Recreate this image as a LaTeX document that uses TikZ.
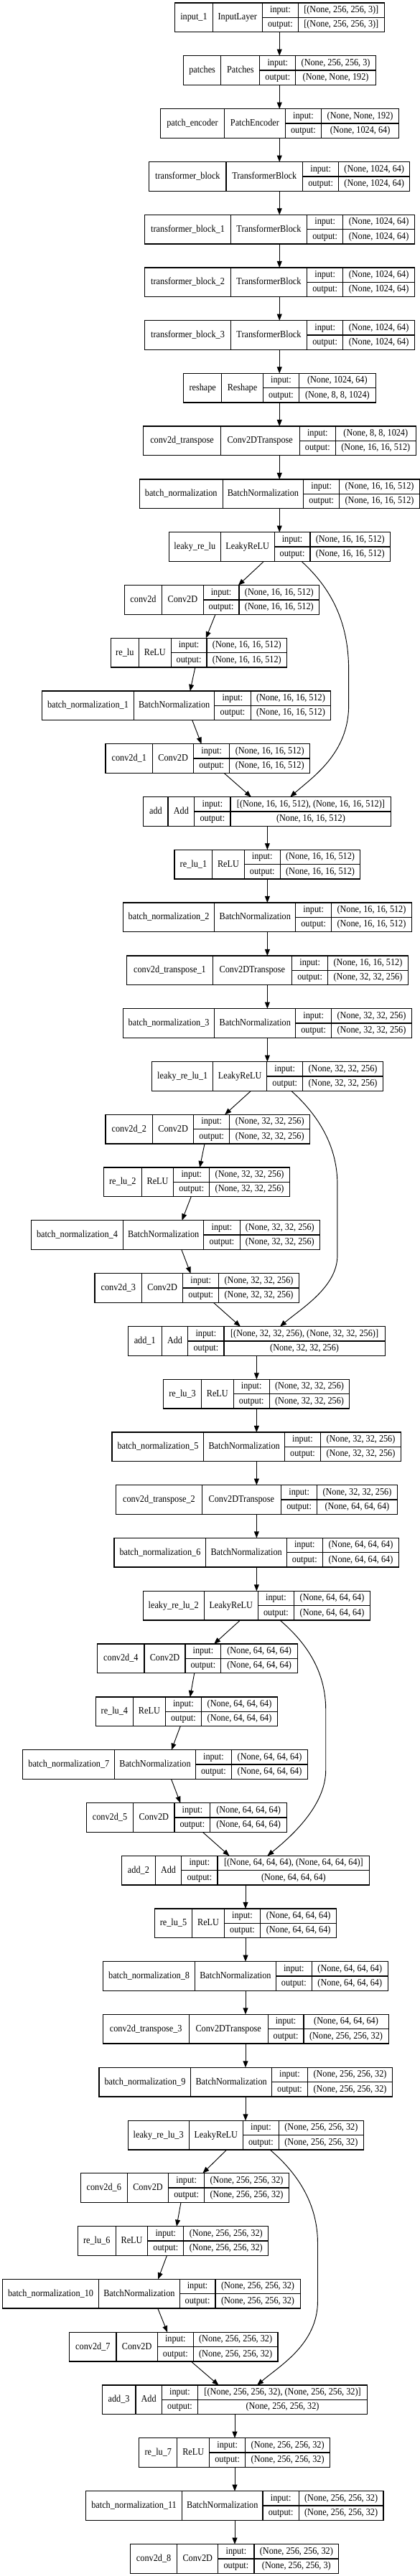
\documentclass[tikz,border=0pt]{standalone}
\usepackage{fontspec}
\setmainfont{Liberation Serif}[FakeStretch=0.9]
\usetikzlibrary{arrows.meta}

\tikzset{
    layer/.style={draw, line width=0.9pt, inner sep=0pt, outer sep=0pt, minimum height=30.5pt, anchor=north west},
    cell/.style={inner sep=0pt, text height=7.4pt, text depth=2.4pt, font=\fontsize{10.2}{12}\selectfont},
    edge/.style={line width=0.7pt, -{Triangle[length=6.8pt, width=5.2pt]}},
}

\begin{document}
\begin{tikzpicture}[x=0.28125pt, y=-0.25pt]
    \useasboundingbox (0,0) rectangle (1560,10770);

    % layer boxes: id / top / cell borders / name / class / input / output
    \foreach \i/\yt/\xa/\xb/\xc/\xd/\xe/\nm/\cl/\ii/\oo in {
        1/12/650/790/974/1108/1427/input\_1/InputLayer/{[(None, 256, 256, 3)]}/{[(None, 256, 256, 3)]},
        2/233/681/821/965/1098/1396/patches/Patches/{(None, 256, 256, 3)}/{(None, None, 192)},
        3/455/596/833/1060/1193/1482/patch\_encoder/PatchEncoder/{(None, None, 192)}/{(None, 1024, 64)},
        4/677/554/840/1124/1258/1522/transformer\_block/TransformerBlock/{(None, 1024, 64)}/{(None, 1024, 64)},
        5/898/538/857/1140/1274/1540/transformer\_block\_1/TransformerBlock/{(None, 1024, 64)}/{(None, 1024, 64)},
        6/1119/538/857/1140/1274/1540/transformer\_block\_2/TransformerBlock/{(None, 1024, 64)}/{(None, 1024, 64)},
        7/1340/538/857/1140/1274/1540/transformer\_block\_3/TransformerBlock/{(None, 1024, 64)}/{(None, 1024, 64)},
        8/1561/682/823/977/1111/1395/reshape/Reshape/{(None, 1024, 64)}/{(None, 8, 8, 1024)},
        9/1782/533/819/1113/1246/1545/conv2d\_transpose/Conv2DTranspose/{(None, 8, 8, 1024)}/{(None, 16, 16, 512)},
        10/2004/518/827/1127/1261/1558/batch\_normalization/BatchNormalization/{(None, 16, 16, 512)}/{(None, 16, 16, 512)},
        11/2225/628/819/1019/1152/1449/leaky\_re\_lu/LeakyReLU/{(None, 16, 16, 512)}/{(None, 16, 16, 512)},
        12/2447/462/602/755/888/1186/conv2d/Conv2D/{(None, 16, 16, 512)}/{(None, 16, 16, 512)},
        13/2668/411/516/635/768/1066/re\_lu/ReLU/{(None, 16, 16, 512)}/{(None, 16, 16, 512)},
        14/2889/156/497/797/931/1229/batch\_normalization\_1/BatchNormalization/{(None, 16, 16, 512)}/{(None, 16, 16, 512)},
        15/3110/392/567/719/853/1151/conv2d\_1/Conv2D/{(None, 16, 16, 512)}/{(None, 16, 16, 512)},
        16/3332/533/624/722/856/1453/add/Add/{[(None, 16, 16, 512), (None, 16, 16, 512)]}/{(None, 16, 16, 512)},
        17/3553/648/789/907/1041/1338/re\_lu\_1/ReLU/{(None, 16, 16, 512)}/{(None, 16, 16, 512)},
        18/3774/457/797/1098/1231/1529/batch\_normalization\_2/BatchNormalization/{(None, 16, 16, 512)}/{(None, 16, 16, 512)},
        19/3996/471/790/1084/1218/1515/conv2d\_transpose\_1/Conv2DTranspose/{(None, 16, 16, 512)}/{(None, 32, 32, 256)},
        20/4217/457/797/1098/1231/1529/batch\_normalization\_3/BatchNormalization/{(None, 32, 32, 256)}/{(None, 32, 32, 256)},
        21/4439/565/791/991/1125/1422/leaky\_re\_lu\_1/LeakyReLU/{(None, 32, 32, 256)}/{(None, 32, 32, 256)},
        22/4660/392/567/719/853/1151/conv2d\_2/Conv2D/{(None, 32, 32, 256)}/{(None, 32, 32, 256)},
        23/4881/385/526/645/778/1076/re\_lu\_2/ReLU/{(None, 32, 32, 256)}/{(None, 32, 32, 256)},
        24/5102/116/457/757/891/1188/batch\_normalization\_4/BatchNormalization/{(None, 32, 32, 256)}/{(None, 32, 32, 256)},
        25/5324/352/527/679/813/1110/conv2d\_3/Conv2D/{(None, 32, 32, 256)}/{(None, 32, 32, 256)},
        26/5546/475/601/698/832/1430/add\_1/Add/{[(None, 32, 32, 256), (None, 32, 32, 256)]}/{(None, 32, 32, 256)},
        27/5767/607/748/867/1001/1298/re\_lu\_3/ReLU/{(None, 32, 32, 256)}/{(None, 32, 32, 256)},
        28/5988/416/757/1057/1191/1489/batch\_normalization\_5/BatchNormalization/{(None, 32, 32, 256)}/{(None, 32, 32, 256)},
        29/6209/431/750/1044/1178/1475/conv2d\_transpose\_2/Conv2DTranspose/{(None, 32, 32, 256)}/{(None, 64, 64, 64)},
        30/6430/424/765/1065/1198/1482/batch\_normalization\_6/BatchNormalization/{(None, 64, 64, 64)}/{(None, 64, 64, 64)},
        31/6652/531/758/958/1092/1375/leaky\_re\_lu\_2/LeakyReLU/{(None, 64, 64, 64)}/{(None, 64, 64, 64)},
        32/6873/362/536/688/821/1105/conv2d\_4/Conv2D/{(None, 64, 64, 64)}/{(None, 64, 64, 64)},
        33/7095/355/495/614/748/1031/re\_lu\_4/ReLU/{(None, 64, 64, 64)}/{(None, 64, 64, 64)},
        34/7316/85/426/726/860/1143/batch\_normalization\_7/BatchNormalization/{(None, 64, 64, 64)}/{(None, 64, 64, 64)},
        35/7538/321/495/648/781/1065/conv2d\_5/Conv2D/{(None, 64, 64, 64)}/{(None, 64, 64, 64)},
        36/7759/452/577/674/808/1373/add\_2/Add/{[(None, 64, 64, 64), (None, 64, 64, 64)]}/{(None, 64, 64, 64)},
        37/7980/574/714/833/967/1250/re\_lu\_5/ReLU/{(None, 64, 64, 64)}/{(None, 64, 64, 64)},
        38/8201/383/724/1025/1158/1441/batch\_normalization\_8/BatchNormalization/{(None, 64, 64, 64)}/{(None, 64, 64, 64)},
        39/8422/382/702/995/1128/1443/conv2d\_transpose\_3/Conv2DTranspose/{(None, 64, 64, 64)}/{(None, 256, 256, 32)},
        40/8644/368/709/1009/1143/1457/batch\_normalization\_9/BatchNormalization/{(None, 256, 256, 32)}/{(None, 256, 256, 32)},
        41/8866/475/702/902/1036/1350/leaky\_re\_lu\_3/LeakyReLU/{(None, 256, 256, 32)}/{(None, 256, 256, 32)},
        42/9086/299/473/626/759/1073/conv2d\_6/Conv2D/{(None, 256, 256, 32)}/{(None, 256, 256, 32)},
        43/9308/289/430/549/682/997/re\_lu\_6/ReLU/{(None, 256, 256, 32)}/{(None, 256, 256, 32)},
        44/9529/9/367/667/800/1115/batch\_normalization\_10/BatchNormalization/{(None, 256, 256, 32)}/{(None, 256, 256, 32)},
        45/9751/258/432/585/718/1032/conv2d\_7/Conv2D/{(None, 256, 256, 32)}/{(None, 256, 256, 32)},
        46/9972/379/504/601/735/1364/add\_3/Add/{[(None, 256, 256, 32), (None, 256, 256, 32)]}/{(None, 256, 256, 32)},
        47/10193/517/658/778/911/1226/re\_lu\_7/ReLU/{(None, 256, 256, 32)}/{(None, 256, 256, 32)},
        48/10415/319/676/976/1110/1424/batch\_normalization\_11/BatchNormalization/{(None, 256, 256, 32)}/{(None, 256, 256, 32)},
        49/10637/484/658/810/944/1258/conv2d\_8/Conv2D/{(None, 256, 256, 32)}/{(None, 256, 256, 3)}} {
        \node[layer, minimum width={(\xe-\xa)*0.28125pt}] (l\i) at (\xa,\yt) {};
        \draw[line width=0.9pt] (\xb,\yt) -- (\xb,\yt+122) (\xc,\yt) -- (\xc,\yt+122) (\xd,\yt) -- (\xd,\yt+122) (\xc,\yt+61) -- (\xe,\yt+61);
        \node[cell] (l\i-name) at ({(\xa+\xb)/2},\yt+61) {\nm};
        \node[cell] (l\i-class) at ({(\xb+\xc)/2},\yt+61) {\cl};
        \node[cell] (l\i-inlab) at ({(\xc+\xd)/2},\yt+30.5) {input:};
        \node[cell] (l\i-outlab) at ({(\xc+\xd)/2},\yt+91.5) {output:};
        \node[cell] (l\i-in) at ({(\xd+\xe)/2},\yt+30.5) {\ii};
        \node[cell] (l\i-out) at ({(\xd+\xe)/2},\yt+91.5) {\oo};
    }

    % layer to layer
    \foreach \a/\b/\xs/\xt in {1/2/1038/1038, 2/3/1038/1038, 3/4/1038/1038, 4/5/1038/1038, 5/6/1038/1038,
        6/7/1038/1038, 7/8/1038/1038, 8/9/1038/1038, 9/10/1038/1038, 10/11/1038/1038,
        11/12/980/885, 12/13/800/765, 13/14/725/706, 14/15/714/748, 15/16/832/933,
        16/17/993/993, 17/18/993/993, 18/19/993/993, 19/20/993/993, 20/21/993/993,
        21/22/932/835, 22/23/760/742, 23/24/710/676, 24/25/674/708, 25/26/793/893,
        26/27/953/953, 27/28/953/953, 28/29/953/953, 29/30/953/953, 30/31/953/953,
        31/32/892/795, 32/33/722/706, 33/34/670/637, 34/35/636/670, 35/36/753/852,
        36/37/912/912, 37/38/912/912, 38/39/912/912, 39/40/912/912, 40/41/912/912,
        41/42/842/753, 42/43/672/656, 43/44/620/587, 44/45/586/622, 45/46/710/812,
        46/47/872/872, 47/48/872/872, 48/49/872/872} {
        \draw[edge] (l\a.south -| \xs,0) -- (l\b.north -| \xt,0);
    }

    % skip connections
    \draw[edge] (l11.south -| 1120,0) .. controls (1230,2460) and (1295,2600) .. (1295,2800) -- (1295,2950) .. controls (1295,3150) and (1160,3250) .. (l16.north -| 1078,0);
    \draw[edge] (l21.south -| 1082,0) .. controls (1190,4670) and (1253,4800) .. (1253,4950) -- (1253,5250) .. controls (1253,5380) and (1120,5470) .. (l26.north -| 1040,0);
    \draw[edge] (l31.south -| 1040,0) .. controls (1150,6880) and (1210,7000) .. (1210,7150) -- (1210,7400) .. controls (1210,7550) and (1080,7680) .. (l36.north -| 993,0);
    \draw[edge] (l41.south -| 1003,0) .. controls (1120,9100) and (1180,9230) .. (1180,9380) -- (1180,9620) .. controls (1180,9800) and (1040,9890) .. (l46.north -| 955,0);
\end{tikzpicture}
\end{document}
